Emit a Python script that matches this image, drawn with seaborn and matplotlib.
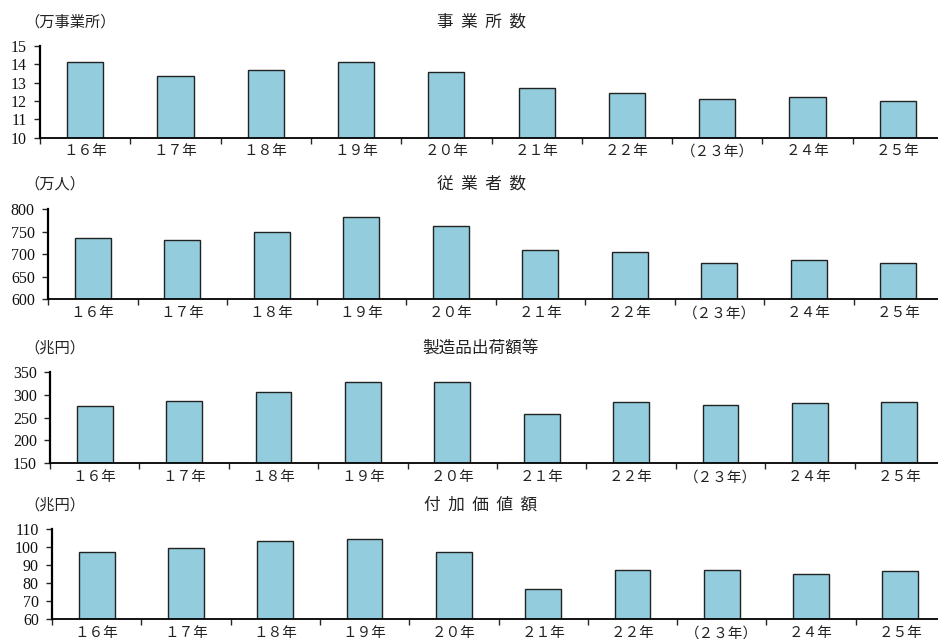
import numpy as np
import pandas as pd
import seaborn as sns
import matplotlib.pyplot as plt
from matplotlib.ticker import FixedLocator

# データ
years = ["１６年", "１７年", "１８年", "１９年", "２０年",
         "２１年", "２２年", "（２３年）", "２４年", "２５年"]
jigyosho = [14.1, 13.35, 13.7, 14.1, 13.6, 12.7, 12.45, 12.1, 12.2, 12.0]
jugyosha = [735, 731, 750, 782, 762, 709, 705, 681, 686, 681]
shukka = [275, 287, 306, 327, 327, 257, 284, 277, 281, 284]
fuka = [97.1, 99.2, 103.4, 104.5, 97.0, 76.7, 87.4, 87.4, 85.2, 86.5]

titles = ["事  業  所  数", "従  業  者  数", "製造品出荷額等", "付  加  価  値  額"]
units = ["（万事業所）", "（万人）", "（兆円）", "（兆円）"]
ylims = [(10, 15), (600, 800), (150, 350), (60, 110)]
ysteps = [1, 50, 50, 10]

sns.set_style("ticks")
plt.rcParams['font.family'] = ['Noto Sans CJK JP', 'DejaVu Sans']

W, H = 938, 639
fig = plt.figure(figsize=(W / 100, H / 100), dpi=100)

# 各パネルの位置 (left, right, top, bottom) ピクセル
boxes = [(40, 943, 46, 137.5), (48, 943, 209, 299.3),
         (50, 944, 372, 463.3), (52, 945, 528.7, 619.3)]
title_y = [22, 184, 348, 505]

bar_color = "#93CDDD"
series = [jigyosho, jugyosha, shukka, fuka]

for i, vals in enumerate(series):
    l, r, t, b = boxes[i]
    ax = fig.add_axes([l / W, 1 - b / H, (r - l) / W, (b - t) / H])
    df = pd.DataFrame({"year": years, "value": vals})
    sns.barplot(data=df, x="year", y="value", color=bar_color,
                edgecolor="#222222", linewidth=1.0, width=0.4,
                saturation=1, ax=ax)
    lo, hi = ylims[i]
    ax.set_ylim(lo, hi)
    ax.set_xlim(-0.5, len(years) - 0.5)
    yt = np.arange(lo, hi + ysteps[i] / 2, ysteps[i])
    ax.set_yticks(yt)
    ax.set_yticklabels([f"{v:g}" for v in yt],
                       fontfamily=["Liberation Serif", "DejaVu Serif"],
                       fontsize=11.5, color="#111111")
    ax.set_xlabel("")
    ax.set_ylabel("")
    # 目盛りは項目の境界に
    ax.xaxis.set_minor_locator(FixedLocator(np.arange(-0.5, len(years), 1)))
    ax.tick_params(axis="x", which="major", length=0, pad=5, labelsize=10.5,
                   labelcolor="#222222")
    ax.tick_params(axis="x", which="minor", length=4, width=1, direction="out")
    ax.tick_params(axis="y", length=4.5, width=1, direction="out", pad=5)
    sns.despine(ax=ax)
    ax.spines["left"].set_linewidth(1.6)
    ax.spines["bottom"].set_linewidth(1.3)
    ax.spines["left"].set_color("black")
    ax.spines["bottom"].set_color("black")

    fig.text(481 / W, 1 - title_y[i] / H, titles[i], ha="center",
             va="center", fontsize=12, color="#222222")
    fig.text(24 / W, 1 - title_y[i] / H, units[i], ha="left",
             va="center", fontsize=11, color="#222222")

fig.savefig("out.png", dpi=100)
